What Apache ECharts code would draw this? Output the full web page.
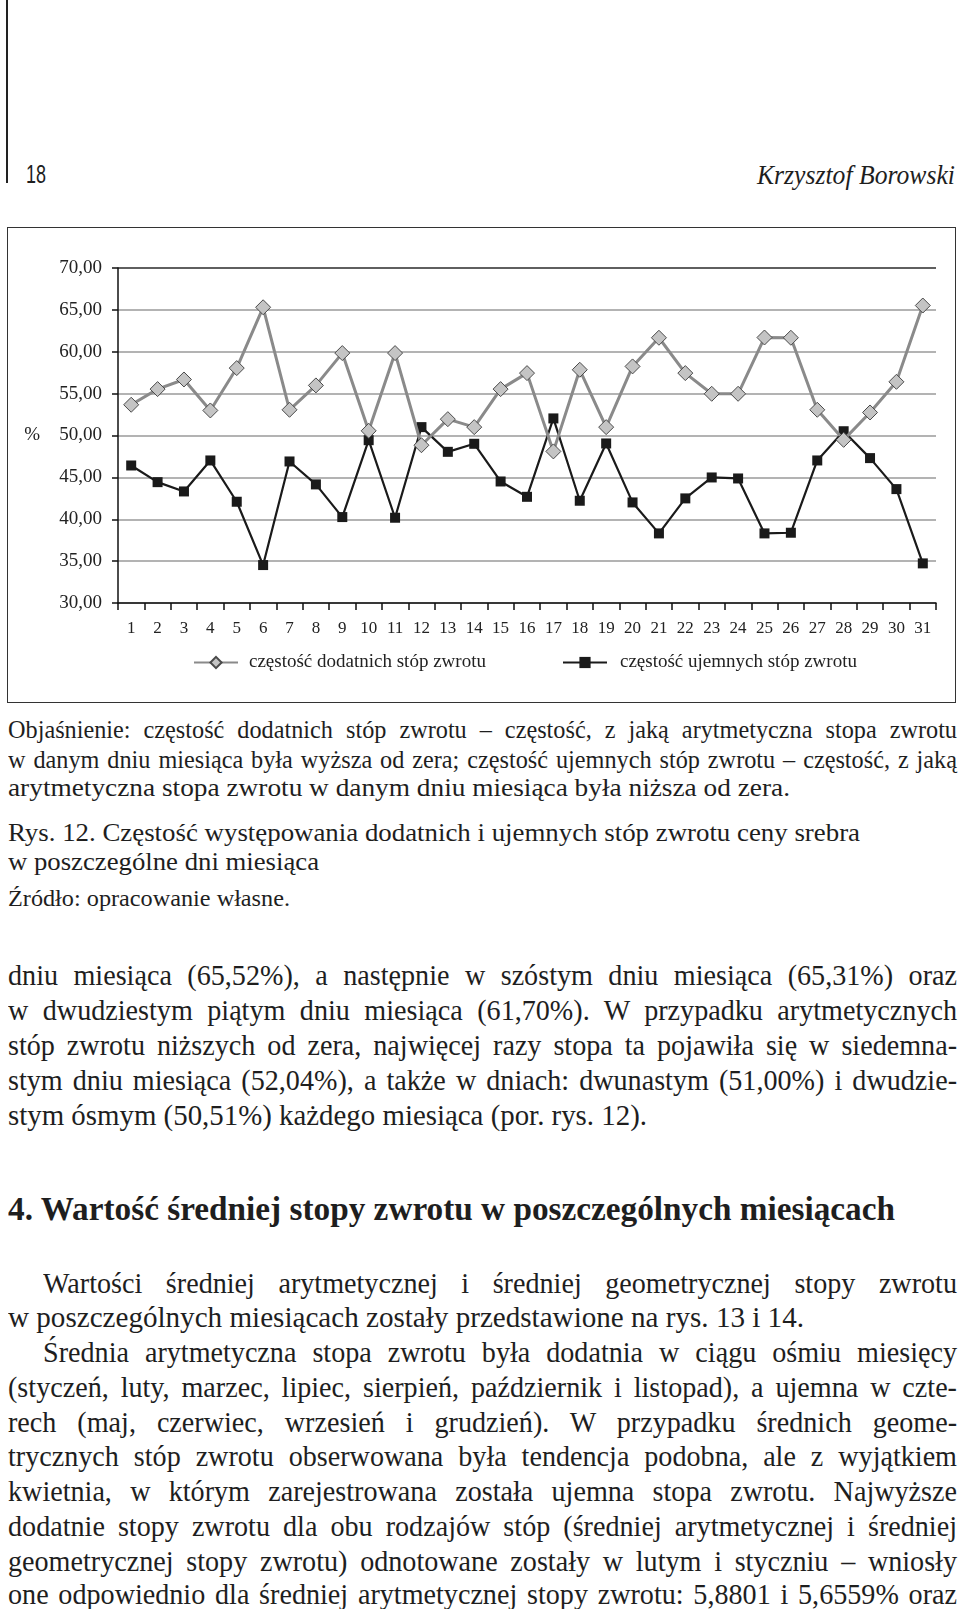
<!DOCTYPE html>
<html>
<head>
<meta charset="utf-8">
<script src="https://cdn.jsdelivr.net/npm/echarts@6/dist/echarts.min.js"></script>
<style>
  html, body { margin: 0; padding: 0; background: #fff; }
  body { width: 960px; height: 1609px; position: relative; overflow: hidden; color: #1e1e1e; }
  .ln { position: absolute; white-space: pre; transform-origin: 0 50%; font-family: "Liberation Serif", "DejaVu Serif", serif; }
  #vline { position: absolute; left: 6px; top: 0; width: 1.5px; height: 183px; background: #222; }
  #box { position: absolute; left: 7px; top: 227px; width: 947px; height: 474px; border: 1.5px solid #333; }
  #chart { position: absolute; left: 7px; top: 227px; width: 949px; height: 476px; }
</style>
</head>
<body>
<div id="vline"></div>
<div id="box"></div>
<div id="chart"></div>
<div id="text"></div>
<script>
// ---- data ----
var days = ['1','2','3','4','5','6','7','8','9','10','11','12','13','14','15','16','17','18','19','20','21','22','23','24','25','26','27','28','29','30','31'];
var positiveFreq = [53.67,55.54,56.69,52.99,58.05,65.31,53.07,55.98,59.84,50.56,59.84,48.84,51.95,51.00,55.54,57.45,48.10,57.85,51.00,58.25,61.67,57.45,54.98,54.98,61.70,61.67,53.07,49.48,52.75,56.41,65.52];
var negativeFreq = [46.42,44.43,43.32,47.02,42.09,34.53,46.90,44.16,40.26,49.44,40.18,51.00,48.05,49.01,44.51,42.68,52.04,42.21,49.05,42.01,38.31,42.49,44.99,44.87,38.31,38.39,47.02,50.51,47.30,43.60,34.73];
var yTicks = [30,35,40,45,50,55,60,65,70];
var seriesNames = ['częstość dodatnich stóp zwrotu', 'częstość ujemnych stóp zwrotu'];

var chart = echarts.init(document.getElementById('chart'), null, {renderer: 'canvas'});
var serif = '"Liberation Serif", "Times New Roman", serif';
var gridColors = yTicks.map(function (v, i) { return i === yTicks.length - 1 ? '#2a2a2a' : '#9a9a9a'; });
chart.setOption({
  animation: false,
  backgroundColor: 'transparent',
  textStyle: { fontFamily: serif },
  grid: { left: 111, right: 20, top: 41, bottom: 100, containLabel: false },
  legend: [
    { data: [seriesNames[0]], left: 181, top: 421, itemWidth: 44, itemHeight: 14, itemGap: 0,
      textStyle: { fontFamily: serif, fontSize: 19, color: '#222', padding: [0,0,0,6] } },
    { data: [seriesNames[1]], left: 550, top: 421, itemWidth: 44, itemHeight: 14, itemGap: 0,
      textStyle: { fontFamily: serif, fontSize: 19, color: '#222', padding: [0,0,0,8] } }
  ],
  xAxis: {
    type: 'category', data: days, boundaryGap: true,
    axisLine: { lineStyle: { color: '#111', width: 1.5 } },
    axisTick: { show: true, length: 7, interval: 0, lineStyle: { color: '#111', width: 1.5 } },
    axisLabel: { fontFamily: serif, fontSize: 17, color: '#222', margin: 17, interval: 0 },
    splitLine: { show: false }
  },
  yAxis: {
    type: 'value', min: 30, max: 70, interval: 5,
    name: '%', nameLocation: 'middle', nameRotate: 0, nameGap: 78,
    nameTextStyle: { fontFamily: serif, fontSize: 19, color: '#222' },
    axisLine: { show: true, lineStyle: { color: '#111', width: 1.5 } },
    axisTick: { show: true, length: 6, lineStyle: { color: '#111', width: 1.5 } },
    axisLabel: { fontFamily: serif, fontSize: 19, color: '#222', margin: 16,
      formatter: function (v) { return v.toFixed(2).replace('.', ','); } },
    splitLine: { show: true, lineStyle: { color: gridColors, width: 1.5 } }
  },
  series: [
    { name: seriesNames[0], type: 'line', data: positiveFreq, z: 3,
      symbol: 'diamond', symbolSize: 15, showSymbol: true,
      lineStyle: { color: '#8a8a8a', width: 3 },
      itemStyle: { color: '#c4c4c4', borderColor: '#4a4a4a', borderWidth: 1 } },
    { name: seriesNames[1], type: 'line', data: negativeFreq, z: 2,
      symbol: 'rect', symbolSize: 10, showSymbol: true,
      lineStyle: { color: '#1a1a1a', width: 2.2 },
      itemStyle: { color: '#1a1a1a', borderColor: '#1a1a1a', borderWidth: 0 } }
  ]
});

// ---- page text (each line placed and fitted) ----
// [text, x1, x2, centerY, fontSize, justified, style]
var lines = [
  ['18', 26, 46, 175, 26, false, 'sans'],
  ['Krzysztof Borowski', 757, 955, 175, 27, false, 'italic'],
  ['Objaśnienie: częstość dodatnich stóp zwrotu – częstość, z jaką arytmetyczna stopa zwrotu', 8, 957, 730, 25, true, ''],
  ['w danym dniu miesiąca była wyższa od zera; częstość ujemnych stóp zwrotu – częstość, z jaką', 8, 957, 760, 25, true, ''],
  ['arytmetyczna stopa zwrotu w danym dniu miesiąca była niższa od zera.', 8, 790, 788, 25, false, ''],
  ['Rys. 12. Częstość występowania dodatnich i ujemnych stóp zwrotu ceny srebra', 8, 860, 833, 26, false, ''],
  ['w poszczególne dni miesiąca', 8, 319, 862, 26, false, ''],
  ['Źródło: opracowanie własne.', 8, 290, 899, 23, false, ''],
  ['dniu miesiąca (65,52%), a następnie w szóstym dniu miesiąca (65,31%) oraz', 8, 957, 975, 29, true, ''],
  ['w dwudziestym piątym dniu miesiąca (61,70%). W przypadku arytmetycznych', 8, 957, 1010, 29, true, ''],
  ['stóp zwrotu niższych od zera, najwięcej razy stopa ta pojawiła się w siedemna-', 8, 957, 1045, 29, true, ''],
  ['stym dniu miesiąca (52,04%), a także w dniach: dwunastym (51,00%) i dwudzie-', 8, 957, 1080, 29, true, ''],
  ['stym ósmym (50,51%) każdego miesiąca (por. rys. 12).', 8, 647, 1115, 29, false, ''],
  ['4. Wartość średniej stopy zwrotu w poszczególnych miesiącach', 8, 895, 1209, 34, false, 'bold'],
  ['Wartości średniej arytmetycznej i średniej geometrycznej stopy zwrotu', 43, 957, 1283, 29, true, ''],
  ['w poszczególnych miesiącach zostały przedstawione na rys. 13 i 14.', 8, 804, 1317, 29, false, ''],
  ['Średnia arytmetyczna stopa zwrotu była dodatnia w ciągu ośmiu miesięcy', 43, 957, 1352, 29, true, ''],
  ['(styczeń, luty, marzec, lipiec, sierpień, październik i listopad), a ujemna w czte-', 8, 957, 1387, 29, true, ''],
  ['rech (maj, czerwiec, wrzesień i grudzień). W przypadku średnich geome-', 8, 957, 1422, 29, true, ''],
  ['trycznych stóp zwrotu obserwowana była tendencja podobna, ale z wyjątkiem', 8, 957, 1456, 29, true, ''],
  ['kwietnia, w którym zarejestrowana została ujemna stopa zwrotu. Najwyższe', 8, 957, 1491, 29, true, ''],
  ['dodatnie stopy zwrotu dla obu rodzajów stóp (średniej arytmetycznej i średniej', 8, 957, 1526, 29, true, ''],
  ['geometrycznej stopy zwrotu) odnotowane zostały w lutym i styczniu – wniosły', 8, 957, 1561, 29, true, ''],
  ['one odpowiednio dla średniej arytmetycznej stopy zwrotu: 5,8801 i 5,6559% oraz', 8, 957, 1594, 29, true, '']
];
var holder = document.getElementById('text');
var condense = 0.97;
lines.forEach(function (L) {
  var el = document.createElement('div');
  el.className = 'ln';
  el.textContent = L[0];
  el.style.fontSize = L[4] + 'px';
  el.style.lineHeight = (L[4] * 1.2) + 'px';
  if (L[6] === 'sans') el.style.fontFamily = '"Liberation Sans Narrow", "Liberation Sans", Arial, sans-serif';
  if (L[6] === 'italic') el.style.fontStyle = 'italic';
  if (L[6] === 'bold') el.style.fontWeight = 'bold';
  el.style.left = L[1] + 'px';
  el.style.top = (L[3] - L[4] * 0.6) + 'px';
  holder.appendChild(el);
  var w = el.getBoundingClientRect().width;
  var target = L[2] - L[1];
  var spaces = (L[0].match(/ /g) || []).length;
  if (L[5] && spaces > 0 && w * condense < target) {
    var ws = (target / condense - w) / spaces;
    el.style.wordSpacing = ws + 'px';
    el.style.transform = 'scaleX(' + condense + ')';
  } else {
    el.style.transform = 'scaleX(' + (target / w) + ')';
  }
});
</script>
</body>
</html>
